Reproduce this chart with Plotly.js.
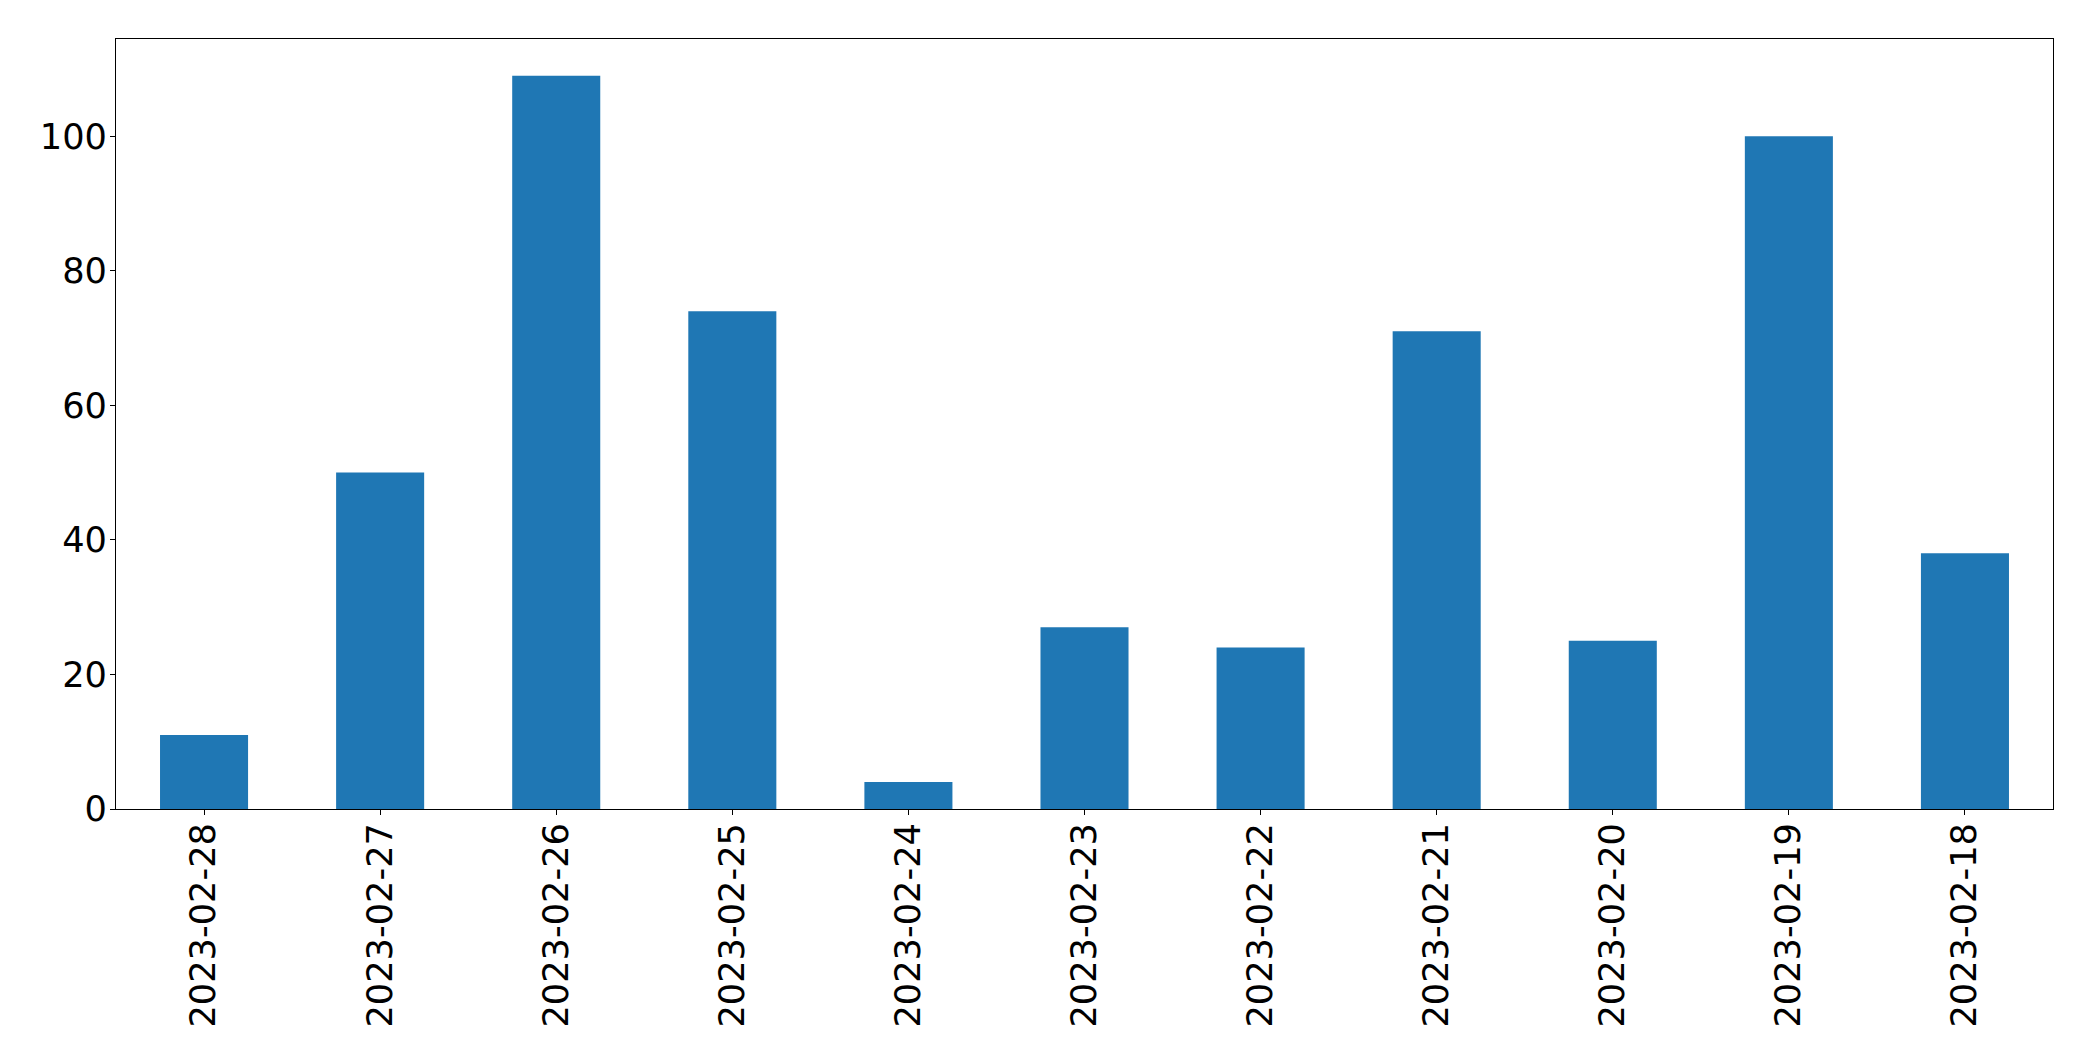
<!DOCTYPE html>
<html>
<head>
<meta charset="utf-8">
<script src="https://cdn.plot.ly/plotly-3.0.1.min.js"></script>
<style>
html, body { margin: 0; padding: 0; background: #ffffff; }
#chart { width: 2093px; height: 1061px; }
</style>
</head>
<body>
<div id="chart"></div>
<script>
const dates = ["2023-02-28", "2023-02-27", "2023-02-26", "2023-02-25", "2023-02-24", "2023-02-23", "2023-02-22", "2023-02-21", "2023-02-20", "2023-02-19", "2023-02-18"];
const counts = [11, 50, 109, 74, 4, 27, 24, 71, 25, 100, 38];
const yTicks = [0, 20, 40, 60, 80, 100];

const trace = {
  type: "bar",
  x: dates,
  y: counts,
  width: 0.5,
  marker: { color: "#1f77b4", line: { width: 0 } },
  hoverinfo: "x+y"
};

const fontFamily = "DejaVu Sans, sans-serif";
const layout = {
  width: 2093,
  height: 1061,
  margin: { l: 116, r: 40, t: 39, b: 252, pad: 0 },
  paper_bgcolor: "#ffffff",
  plot_bgcolor: "#ffffff",
  showlegend: false,
  font: { family: fontFamily, size: 35.2, color: "#000000" },
  xaxis: {
    type: "category",
    categoryorder: "array",
    categoryarray: dates,
    range: [-0.5, dates.length - 0.5],
    tickangle: -90,
    ticks: "outside",
    ticklen: 5,
    tickwidth: 1,
    tickcolor: "#000000",
    ticklabelstandoff: -6,
    showline: true,
    linecolor: "#000000",
    linewidth: 1,
    mirror: true,
    showgrid: false,
    zeroline: false,
    tickfont: { family: fontFamily, size: 35.2, color: "#000000" }
  },
  yaxis: {
    range: [0, 114.45],
    tickmode: "array",
    tickvals: yTicks,
    ticktext: yTicks.map(String),
    ticks: "outside",
    ticklen: 5,
    tickwidth: 1,
    tickcolor: "#000000",
    ticklabelstandoff: -4,
    showline: true,
    linecolor: "#000000",
    linewidth: 1,
    mirror: true,
    showgrid: false,
    zeroline: false,
    tickfont: { family: fontFamily, size: 35.2, color: "#000000" }
  }
};

Plotly.newPlot("chart", [trace], layout, { displayModeBar: false, staticPlot: true });
</script>
</body>
</html>
